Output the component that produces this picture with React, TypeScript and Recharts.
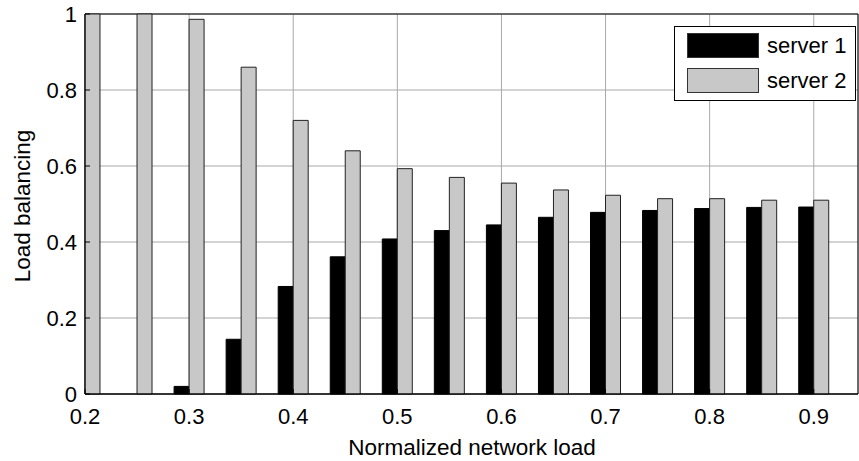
import {
  Bar,
  BarChart,
  CartesianGrid,
  Legend,
  ReferenceArea,
  XAxis,
  YAxis,
} from "recharts";

const networkLoad = [0.2, 0.25, 0.3, 0.35, 0.4, 0.45, 0.5, 0.55, 0.6, 0.65, 0.7, 0.75, 0.8, 0.85, 0.9];
const server1 = [0, 0, 0.02, 0.144, 0.283, 0.361, 0.408, 0.43, 0.445, 0.465, 0.478, 0.483, 0.488, 0.491, 0.492];
const server2 = [1, 1, 0.986, 0.86, 0.72, 0.64, 0.593, 0.57, 0.555, 0.537, 0.523, 0.514, 0.514, 0.51, 0.51];

const xTicks = [0.2, 0.3, 0.4, 0.5, 0.6, 0.7, 0.8, 0.9];
const yTicks = [0, 0.2, 0.4, 0.6, 0.8, 1];
const xDomain: [number, number] = [0.2, 0.9425];
const yDomain: [number, number] = [0, 1];

const data = networkLoad.map((load, i) => ({
  load,
  s1: server1[i],
  s2: server2[i],
}));

const FONT = '"Liberation Sans", Arial, sans-serif';
const GRAY = "#c8c8c8";
const TICK_FS = 22;
const LABEL_FS = 22.5;

function LegendBox() {
  const row = (color: string, text: string) => (
    <div style={{ display: "flex", alignItems: "center", height: 25, marginBottom: 10 }}>
      <div
        style={{
          width: 72,
          height: 25,
          background: color,
          border: "1px solid #333",
          boxSizing: "border-box",
          marginRight: 8,
        }}
      />
      <span style={{ fontSize: 22, color: "#000", lineHeight: "25px" }}>{text}</span>
    </div>
  );
  return (
    <div
      style={{
        width: 182,
        height: 75,
        boxSizing: "border-box",
        border: "1px solid #000",
        background: "#fff",
        padding: "6px 0 0 12px",
        fontFamily: FONT,
      }}
    >
      {row("#000", "server 1")}
      {row(GRAY, "server 2")}
    </div>
  );
}

export default function App() {
  return (
    <div style={{ position: "absolute", left: 0, top: 0, background: "#fff", fontFamily: FONT }}>
      <BarChart
        width={859}
        height={461}
        data={data}
        margin={{ top: 14, right: 1, left: 0, bottom: 0 }}
        barGap={0}
        barSize={15}
      >
        <CartesianGrid stroke="#a8a8a8" strokeWidth={1} />
        <XAxis
          dataKey="load"
          type="number"
          domain={xDomain}
          allowDataOverflow
          ticks={xTicks}
          height={67}
          tickSize={-5}
          tickMargin={19}
          axisLine={{ stroke: "#000" }}
          tickLine={{ stroke: "#000" }}
          tick={{ fill: "#000", fontSize: TICK_FS, fontFamily: FONT }}
          label={() => (
            <text x={472} y={455} textAnchor="middle" fontSize={LABEL_FS} fontFamily={FONT} fill="#000">
              Normalized network load
            </text>
          )}
        />
        <YAxis
          type="number"
          domain={yDomain}
          ticks={yTicks}
          width={85}
          tickSize={-5}
          tickMargin={13}
          axisLine={{ stroke: "#000" }}
          tickLine={{ stroke: "#000" }}
          tick={{ fill: "#000", fontSize: TICK_FS, fontFamily: FONT }}
          label={() => (
            <text
              x={22}
              y={206}
              transform="rotate(-90 22 206)"
              textAnchor="middle"
              dominantBaseline="central"
              fontSize={LABEL_FS}
              fontFamily={FONT}
              fill="#000"
            >
              Load balancing
            </text>
          )}
        />
        <Bar dataKey="s1" name="server 1" fill="#000" stroke="#000" strokeWidth={1} isAnimationActive={false} />
        <Bar dataKey="s2" name="server 2" fill={GRAY} stroke="#222" strokeWidth={1} isAnimationActive={false} />
        <ReferenceArea
          x1={xDomain[0]}
          x2={xDomain[1]}
          y1={yDomain[0]}
          y2={yDomain[1]}
          fill="none"
          fillOpacity={0}
          stroke="#000"
          strokeWidth={1}
          ifOverflow="visible"
        />
        <Legend
          layout="horizontal"
          verticalAlign="middle"
          align="center"
          wrapperStyle={{ position: "absolute", top: 26, left: 674, width: 182, height: 75 }}
          content={() => <LegendBox />}
        />
      </BarChart>
    </div>
  );
}
